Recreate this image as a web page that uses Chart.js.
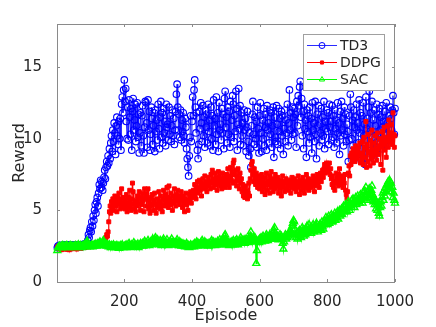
<!DOCTYPE html>
<html>
<head>
<meta charset="utf-8">
<script src="https://cdn.jsdelivr.net/npm/chart.js@4.4.1/dist/chart.umd.min.js"></script>
<style>
  body { margin: 0; background: white; }
  #c { display: block; }
</style>
</head>
<body>
<canvas id="c" width="436" height="327"></canvas>
<script>
// one value every 2 episodes (2..1000)
const episodes = Array.from({ length: 500 }, (_, i) => (i + 1) * 2);
const xTicks = [200, 400, 600, 800, 1000];
const yTicks = [0, 5, 10, 15];

const td3 = [
  2.4,2.5,2.45,2.55,2.5,2.4,2.5,2.55,2.45,2.5,2.6,2.5,2.45,2.4,2.55,2.5,2.6,2.45,2.5,2.55,2.4,2.5,2.6,2.55,2.5,
  2.5,2.45,2.6,2.5,2.55,2.45,2.5,2.6,2.55,2.5,2.45,2.6,2.5,2.55,2.65,2.5,2.6,2.55,2.7,2.6,2.9,3.3,3.1,3.6,3.8,
  3.5,4.2,3.9,4.6,4.3,5.0,5.4,4.8,5.6,5.9,5.3,6.2,6.8,6.5,7.1,6.6,7.0,6.4,6.9,7.3,7.8,7.2,8.0,8.4,8.1,
  8.8,8.3,9.3,8.6,9.7,10.2,9.1,10.6,9.8,11.1,10.4,8.9,10.9,11.5,10.2,9.6,11.2,10.0,11.4,9.2,12.4,12.9,11.8,13.4,14.1,
  12.6,13.5,11.2,10.0,12.2,9.9,12.7,11.5,10.3,12.1,9.2,11.9,12.8,10.6,11.3,12.4,9.8,10.9,12.5,10.1,11.7,9.0,10.4,11.8,9.5,
  11.6,12.3,10.2,9.0,10.8,12.6,12.5,11.1,9.4,12.7,10.6,11.9,9.2,10.3,12.2,11.4,9.6,10.9,11.8,9.1,12.0,10.5,11.3,9.9,12.4,
  10.7,9.3,11.5,12.6,10.1,11.8,9.7,12.1,10.4,11.2,9.5,12.4,10.8,11.0,9.9,12.2,10.3,11.6,9.8,10.9,12.0,10.2,11.4,9.6,10.6,
  11.9,13.1,13.8,12.2,10.6,11.7,10.1,12.0,9.9,11.3,10.5,11.8,10.2,9.7,11.4,10.8,9.3,8.6,8.0,7.4,8.8,10.1,11.6,9.8,11.2,
  12.9,11.6,13.4,14.1,12.2,10.4,11.8,9.2,8.6,9.6,11.9,10.7,12.5,11.1,9.8,12.3,10.2,11.5,9.4,12.0,10.8,11.7,9.7,12.4,10.5,
  11.3,9.5,12.2,10.0,11.6,9.2,12.7,10.9,11.4,9.6,12.9,10.3,11.8,9.1,12.5,10.6,11.0,9.9,12.1,10.4,11.7,9.3,12.8,13.3,10.8,
  11.5,9.7,12.2,10.3,11.9,9.4,12.6,10.1,11.3,13.0,12.4,9.8,11.6,10.5,13.3,12.1,9.2,11.0,13.5,10.7,12.3,9.6,11.8,10.2,11.1,
  9.5,12.0,10.6,11.4,9.1,10.8,11.9,9.8,8.8,10.4,9.3,8.0,10.9,11.7,12.6,10.3,9.6,11.5,10.0,11.2,9.4,12.2,10.7,9.0,11.6,
  12.5,10.4,9.1,11.3,10.0,12.1,9.5,11.7,10.8,9.2,12.3,10.6,11.1,9.7,12.0,10.3,11.8,9.4,10.9,12.2,8.7,11.5,10.1,9.8,12.3,
  11.0,9.6,12.1,10.5,11.4,9.3,11.9,10.2,11.6,8.9,10.7,12.0,9.8,11.3,10.4,12.4,9.5,11.1,13.4,10.6,11.8,9.9,12.2,10.3,11.5,
  12.1,10.4,11.7,9.4,12.6,10.9,13.0,12.3,13.6,14.0,11.5,12.8,10.2,11.9,9.3,12.4,10.7,11.3,8.7,12.0,10.5,11.6,9.7,12.2,10.1,
  11.4,9.0,12.5,10.6,11.1,9.8,12.6,10.3,8.6,11.7,10.9,12.3,9.5,11.0,10.4,12.1,9.9,11.5,10.2,12.6,9.3,11.2,10.7,12.0,10.5,
  11.8,9.6,12.4,10.8,11.2,9.9,12.3,10.1,11.6,9.4,12.0,10.7,11.3,9.7,12.5,10.4,11.1,8.9,11.9,10.2,12.6,10.6,11.4,9.5,12.2,
  10.3,11.7,9.8,11.0,10.5,8.4,9.9,11.6,13.1,12.2,10.0,11.3,9.5,12.0,10.8,11.5,9.2,12.4,10.6,11.1,9.7,12.7,10.4,11.8,8.5,
  11.6,9.3,12.5,10.2,11.0,8.2,12.9,10.7,11.4,9.0,12.2,13.3,10.5,11.8,9.6,12.6,10.1,11.3,8.6,12.0,10.9,9.4,12.4,10.3,11.7,
  9.8,12.1,10.6,11.5,9.3,12.3,10.8,11.2,9.7,11.9,10.4,12.5,9.9,11.1,10.7,11.6,10.0,12.2,11.4,10.6,12.0,13.0,11.8,10.3,12.1
];

const ddpg = [
  2.4,2.5,2.35,2.45,2.3,2.4,2.25,2.5,2.35,2.45,2.3,2.4,2.3,2.45,2.35,2.3,2.4,2.25,2.35,2.45,2.3,2.4,2.5,2.35,2.4,
  2.45,2.35,2.5,2.4,2.3,2.45,2.55,2.4,2.5,2.45,2.35,2.5,2.55,2.45,2.5,2.4,2.55,2.5,2.45,2.6,2.5,2.55,2.45,2.6,2.5,
  2.55,2.6,2.5,2.65,2.55,2.6,2.7,2.55,2.65,2.6,2.7,2.6,2.65,2.75,2.6,2.7,2.65,2.8,2.7,2.75,2.9,2.8,3.1,3.3,3.2,
  3.5,4.2,4.9,5.3,4.8,5.6,5.2,5.8,5.0,5.5,6.0,5.3,5.7,4.9,5.9,5.4,6.2,5.6,5.1,5.8,6.5,5.5,5.2,5.9,5.4,
  5.1,5.7,6.1,4.9,5.5,5.9,5.2,6.4,5.6,5.0,5.8,6.9,6.3,5.4,5.1,5.7,4.9,5.5,6.0,5.3,5.8,6.3,5.5,5.0,5.9,
  5.4,6.2,5.7,4.9,6.5,5.9,6.2,5.3,5.8,6.5,5.1,5.6,4.8,5.3,5.9,6.1,5.4,5.0,5.7,6.2,5.5,4.8,5.2,5.8,5.4,
  6.3,5.6,5.1,6.0,5.4,4.9,5.8,6.4,5.7,5.3,6.1,5.5,6.6,5.9,5.2,6.7,5.8,5.4,6.2,5.6,5.0,6.0,5.5,6.5,5.7,
  5.3,6.1,5.8,6.4,5.6,6.0,5.4,5.9,6.3,5.7,5.2,6.0,5.5,4.9,5.8,6.2,5.4,5.7,5.0,5.6,6.1,5.8,6.3,5.5,6.0,
  5.9,6.4,6.1,6.8,6.3,5.8,6.6,7.0,6.2,6.5,7.1,6.4,6.9,6.0,6.7,7.2,6.5,6.9,7.4,6.6,7.0,6.3,6.8,7.3,6.7,
  7.0,6.5,7.5,6.9,7.8,7.2,6.6,7.1,7.6,6.8,7.3,6.4,7.0,7.7,6.9,7.4,6.7,7.2,6.5,7.6,7.0,6.8,7.3,6.6,7.1,
  7.5,6.8,7.9,7.2,6.6,7.4,8.0,7.1,7.7,6.9,8.3,8.5,7.5,7.0,7.8,6.7,7.3,7.9,7.1,6.5,7.6,6.9,7.2,6.3,6.8,
  6.0,6.5,5.9,6.7,6.1,6.4,5.8,6.2,6.9,6.0,7.2,7.8,8.2,8.4,7.5,7.0,7.9,7.3,6.8,7.6,7.1,6.6,7.4,6.9,6.5,
  7.2,6.7,7.5,6.3,7.0,6.6,7.3,6.1,6.9,7.6,6.4,7.1,6.8,7.4,6.2,6.9,7.7,6.6,7.0,6.3,7.2,6.8,7.5,6.5,7.0,
  6.7,7.3,6.2,6.9,6.5,7.1,6.0,6.8,7.4,6.6,7.0,6.3,6.9,7.2,6.5,7.0,6.7,6.4,7.1,6.8,6.2,6.9,7.3,6.6,7.0,
  6.5,7.2,6.8,6.3,7.0,6.6,7.4,6.9,6.1,6.7,7.1,6.4,6.9,7.3,6.6,6.2,7.0,6.8,7.5,6.5,6.9,7.2,6.4,7.0,6.7,
  7.1,6.6,6.9,7.4,6.8,6.3,7.2,6.7,7.0,7.5,6.9,7.3,6.6,7.1,7.6,7.0,7.4,7.8,7.3,7.9,8.2,7.6,8.0,8.3,7.7,
  8.1,7.8,8.3,7.5,7.9,7.2,6.8,7.4,6.6,7.0,6.4,7.1,7.6,6.9,7.3,6.7,7.5,7.9,7.1,6.8,7.4,7.0,6.6,7.2,6.9,
  7.5,6.4,6.1,5.8,6.3,7.6,8.1,7.4,8.8,8.2,9.0,8.5,9.3,8.7,9.1,8.4,9.5,8.8,9.2,8.6,9.4,8.9,9.7,8.3,9.0,
  8.5,9.8,8.2,10.1,8.7,9.4,11.2,8.0,9.6,8.4,10.3,9.0,8.1,9.9,8.6,10.6,9.2,8.3,9.7,8.8,10.2,9.1,8.5,10.4,9.3,
  8.9,10.0,9.5,8.2,9.8,10.5,7.8,9.6,10.8,9.2,10.1,8.7,9.9,10.9,9.4,11.3,10.2,9.7,11.0,10.4,9.6,11.8,10.3,9.4,10.2
];

const sac = [
  2.2,2.4,2.45,2.5,2.4,2.45,2.5,2.4,2.55,2.45,2.5,2.4,2.5,2.45,2.55,2.5,2.4,2.45,2.5,2.55,2.45,2.5,2.4,2.5,2.45,
  2.5,2.45,2.55,2.4,2.5,2.45,2.6,2.5,2.45,2.55,2.5,2.4,2.5,2.55,2.45,2.6,2.5,2.55,2.7,2.85,2.6,2.5,2.55,2.45,2.5,
  2.5,2.6,2.45,2.55,2.5,2.6,2.55,2.65,2.5,2.6,2.7,2.55,2.6,2.8,2.65,2.55,2.7,2.6,2.9,2.7,2.6,2.55,2.65,2.5,2.6,
  2.55,2.45,2.6,2.5,2.4,2.55,2.5,2.45,2.6,2.5,2.4,2.5,2.45,2.55,2.4,2.5,2.35,2.45,2.55,2.4,2.5,2.6,2.45,2.4,2.5,
  2.45,2.55,2.4,2.6,2.5,2.45,2.7,2.55,2.4,2.5,2.6,2.45,2.55,2.75,2.5,2.6,2.45,2.55,2.5,2.65,2.4,2.55,2.5,2.7,2.6,
  2.55,2.7,2.5,2.6,2.85,2.65,2.55,2.7,2.6,2.9,2.7,2.55,2.65,2.8,2.6,2.75,3.0,2.8,2.65,2.9,3.1,2.85,2.7,2.95,2.75,
  2.8,2.6,2.9,2.7,2.55,2.85,2.7,3.0,2.75,2.6,2.8,2.65,2.95,2.7,2.55,2.75,2.6,2.85,2.7,3.0,2.75,2.6,2.8,2.65,2.7,
  2.6,2.75,2.95,2.7,2.55,2.65,2.8,2.6,2.5,2.7,2.55,2.65,2.5,2.6,2.45,2.55,2.7,2.5,2.45,2.55,2.4,2.5,2.6,2.45,2.55,
  2.5,2.6,2.45,2.7,2.55,2.6,2.8,2.65,2.5,2.7,2.6,2.55,2.75,2.6,2.9,2.7,2.55,2.65,2.8,2.6,2.7,2.55,2.65,2.5,2.7,
  2.6,2.75,2.55,2.9,2.7,2.6,2.8,2.65,2.55,2.75,2.6,2.7,2.85,2.6,2.75,2.95,2.7,2.6,2.8,2.9,3.05,2.8,3.2,3.3,2.9,
  2.75,2.6,2.8,2.7,2.55,2.75,2.65,2.8,2.6,2.75,2.9,2.7,2.6,2.85,2.7,2.95,2.75,2.6,2.8,2.7,2.9,3.1,2.85,2.7,2.9,
  2.8,2.95,2.7,2.85,3.0,2.8,2.9,2.75,3.05,2.85,3.2,3.5,3.1,2.9,2.8,3.0,2.85,3.1,2.9,1.3,2.2,2.8,2.9,2.75,3.0,
  2.9,3.1,2.8,3.0,3.2,2.9,3.05,2.85,3.1,3.3,3.0,2.9,3.15,3.0,3.3,3.1,3.0,3.25,3.1,3.4,3.6,3.8,3.4,3.2,3.1,
  3.0,3.2,2.95,3.1,3.3,3.05,3.2,3.0,2.7,2.3,2.8,3.1,3.3,3.0,3.2,3.1,3.35,3.2,3.5,3.3,3.6,3.4,3.9,4.1,4.3,
  4.2,3.7,3.3,3.1,3.4,3.0,3.5,3.2,3.6,3.3,3.1,3.5,3.8,3.4,3.2,3.6,3.3,3.7,3.5,3.9,3.4,3.6,4.0,3.5,3.7,
  3.4,3.8,3.6,4.0,3.5,3.7,3.9,3.6,4.1,3.8,3.5,3.9,3.7,4.0,3.8,3.6,4.2,3.9,3.7,4.1,4.3,4.0,4.5,4.2,4.0,
  4.3,4.6,4.1,4.4,4.2,4.7,4.5,4.2,4.6,4.4,4.8,4.3,4.6,4.5,4.9,4.4,4.7,5.0,4.6,4.8,5.1,4.7,5.0,5.3,4.9,
  5.0,5.4,5.1,4.9,5.3,5.6,5.2,5.0,5.5,5.3,5.7,5.4,5.8,5.5,5.2,5.6,5.9,5.4,5.7,6.0,5.6,5.8,5.5,6.1,5.7,
  5.9,5.5,6.2,5.8,6.4,6.1,6.6,6.0,5.7,6.3,5.9,6.5,6.2,5.8,6.4,6.7,6.1,5.6,5.9,5.4,5.7,5.1,5.4,5.0,5.5,
  4.8,4.6,5.2,5.6,5.3,5.9,6.2,5.7,6.4,6.0,6.6,6.3,6.8,6.5,7.0,6.7,7.1,6.6,6.9,6.3,6.6,5.9,6.2,5.7,5.5
];

const toPoints = (arr) => arr.map((v, i) => ({ x: episodes[i], y: v }));

Chart.defaults.font.family = "'DejaVu Sans', sans-serif";
Chart.defaults.color = "#262626";

// axes box with inward tick marks
const frame = {
  id: "frame",
  beforeDatasetsDraw(chart) {
    const { ctx, chartArea: a, scales } = chart;
    ctx.save();
    ctx.strokeStyle = "#8a8a8a";
    ctx.lineWidth = 1;
    ctx.strokeRect(a.left + 0.5, a.top + 0.5, a.right - a.left - 1, a.bottom - a.top);
    ctx.beginPath();
    xTicks.forEach((v) => {
      const px = Math.round(scales.x.getPixelForValue(v)) + 0.5;
      ctx.moveTo(px, a.bottom); ctx.lineTo(px, a.bottom - 3);
      ctx.moveTo(px, a.top); ctx.lineTo(px, a.top + 3);
    });
    yTicks.forEach((v) => {
      const py = Math.round(scales.y.getPixelForValue(v)) + 0.5;
      ctx.moveTo(a.left, py); ctx.lineTo(a.left + 3, py);
      ctx.moveTo(a.right, py); ctx.lineTo(a.right - 3, py);
    });
    ctx.stroke();
    ctx.restore();
  },
};

// legend box inside the plot, top right
const boxLegend = {
  id: "boxLegend",
  afterDraw(chart) {
    const { ctx } = chart;
    const x0 = 303.5, y0 = 34.5, w = 81, h = 56;
    ctx.save();
    ctx.fillStyle = "white";
    ctx.fillRect(x0, y0, w, h);
    ctx.strokeStyle = "#a0a0a0";
    ctx.lineWidth = 1;
    ctx.strokeRect(x0, y0, w, h);
    const rows = [45, 62, 79];
    chart.data.datasets.forEach((ds, k) => {
      const y = rows[k];
      ctx.strokeStyle = ds.borderColor;
      ctx.lineWidth = 1;
      ctx.beginPath();
      ctx.moveTo(307, y + 0.5); ctx.lineTo(337, y + 0.5);
      ctx.stroke();
      ctx.strokeStyle = ds.pointBorderColor;
      ctx.fillStyle = ds.pointBackgroundColor;
      Chart.helpers.drawPoint(ctx, {
        pointStyle: ds.pointStyle,
        radius: k === 1 ? 2.2 : 3,
        borderWidth: 1,
        rotation: 0,
      }, 322, y + 0.5);
      ctx.fillStyle = "#262626";
      ctx.font = "14px 'DejaVu Sans'";
      ctx.textBaseline = "middle";
      ctx.textAlign = "left";
      ctx.fillText(ds.label, 340, y + 1);
    });
    ctx.restore();
  },
};

new Chart(document.getElementById("c"), {
  type: "line",
  data: {
    datasets: [
      {
        label: "TD3",
        data: toPoints(td3),
        borderColor: "rgba(20,20,255,0.9)",
        pointBorderColor: "#0000ff",
        pointBackgroundColor: "rgba(0,0,0,0)",
        pointStyle: "circle",
        pointRadius: 3.3,
        pointBorderWidth: 1.1,
        borderWidth: 1,
        order: 3,
        clip: 6,
      },
      {
        label: "DDPG",
        data: toPoints(ddpg),
        borderColor: "#ff0000",
        pointBorderColor: "#ff0000",
        pointBackgroundColor: "#ff0000",
        pointStyle: "rect",
        pointRadius: 2.8,
        pointBorderWidth: 1,
        borderWidth: 1.2,
        order: 2,
        clip: 6,
      },
      {
        label: "SAC",
        data: toPoints(sac),
        borderColor: "#00ff00",
        pointBorderColor: "#00ff00",
        pointBackgroundColor: "rgba(0,0,0,0)",
        pointStyle: "triangle",
        pointRadius: 4,
        pointBorderWidth: 1.4,
        borderWidth: 1.5,
        order: 1,
        clip: 6,
      },
    ],
  },
  options: {
    responsive: false,
    animation: false,
    events: [],
    layout: { padding: { left: 0, top: 24, right: 41, bottom: 0 } },
    plugins: { legend: { display: false }, tooltip: { enabled: false } },
    elements: { line: { tension: 0 } },
    scales: {
      x: {
        type: "linear",
        min: 1,
        max: 1000,
        grid: { display: false },
        border: { display: false },
        afterBuildTicks: (s) => { s.ticks = xTicks.map((v) => ({ value: v })); },
        afterFit: (s) => { s.height = 45; },
        ticks: { font: { size: 15 }, padding: 3, maxRotation: 0, autoSkip: false, callback: (v) => String(v) },
        title: { display: true, text: "Episode", font: { size: 16 }, padding: { top: 0, bottom: 2 } },
      },
      y: {
        min: 0,
        max: 18,
        grid: { display: false },
        border: { display: false },
        afterBuildTicks: (s) => { s.ticks = yTicks.map((v) => ({ value: v })); },
        afterFit: (s) => { s.width = 57; },
        ticks: { font: { size: 15 }, padding: 7, callback: (v) => String(v) },
        title: { display: true, text: "Reward", font: { size: 16 }, padding: { top: 10, bottom: 0 } },
      },
    },
  },
  plugins: [frame, boxLegend],
});
</script>
</body>
</html>
